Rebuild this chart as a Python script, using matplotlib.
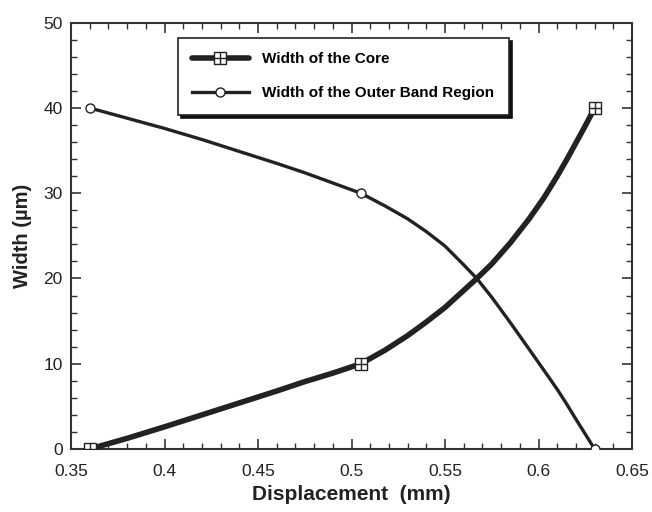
import numpy as np
import matplotlib
matplotlib.use("Agg")
import matplotlib.pyplot as plt
from matplotlib.ticker import MultipleLocator, FormatStrFormatter

plt.rcParams['font.family'] = ['Liberation Sans', 'DejaVu Sans']

# measured data points (markers)
x_pts = [0.36, 0.505, 0.63]
core_pts = [0, 10, 40]
outer_pts = [40, 30, 0]

# points
core_x = [0.36, 0.38, 0.40, 0.42, 0.44, 0.46, 0.475, 0.49, 0.505, 0.518, 0.53, 0.54, 0.55,
          0.56, 0.567, 0.575, 0.585, 0.595, 0.603, 0.61, 0.615, 0.62, 0.625, 0.63]
core_y = [0, 1.25, 2.6, 4.0, 5.4, 6.8, 7.9, 8.9, 10, 11.6, 13.3, 14.9, 16.6,
          18.6, 20, 21.7, 24.2, 27.0, 29.5, 32.0, 33.9, 35.9, 37.9, 40]
outer_x = [0.36, 0.38, 0.40, 0.42, 0.44, 0.46, 0.475, 0.49, 0.505, 0.518, 0.53, 0.54, 0.55,
           0.56, 0.567, 0.575, 0.585, 0.595, 0.603, 0.61, 0.615, 0.62, 0.625, 0.63]
outer_y = [40, 38.8, 37.6, 36.3, 34.9, 33.5, 32.4, 31.2, 30, 28.5, 27.0, 25.5, 23.8,
           21.6, 20, 17.8, 14.8, 11.7, 9.2, 7.0, 5.3, 3.5, 1.75, 0]

lab_core = 'Width of the Core'
lab_outer = 'Width of the Outer Band Region'

col = '#222222'

fig = plt.figure(figsize=(6.52, 5.12), dpi=100)
ax = fig.add_axes([71/652, 1-449/512, 561/652, 426.3/512])

l1, = ax.plot(core_x, core_y, color=col, lw=4.0, solid_capstyle='round',
              solid_joinstyle='round', zorder=3)
m1a, = ax.plot(x_pts, core_pts, 's', ms=8.5, mfc='white', mec=col, mew=1.0, zorder=4, ls='none')
m1b, = ax.plot(x_pts, core_pts, '+', ms=8.5, mec=col, mew=1.0, zorder=5, ls='none')

l2, = ax.plot(outer_x, outer_y, color=col, lw=2.4, solid_joinstyle='round', zorder=3)
m2, = ax.plot(x_pts, outer_pts, 'o', ms=6.5, mfc='white', mec=col, mew=1.0, zorder=4, ls='none')

ax.set_xlim(0.35, 0.65)
ax.set_ylim(0, 50)
ax.xaxis.set_major_locator(MultipleLocator(0.05))
ax.xaxis.set_minor_locator(MultipleLocator(0.01))
ax.yaxis.set_major_locator(MultipleLocator(10))
ax.yaxis.set_minor_locator(MultipleLocator(2))
ax.xaxis.set_major_formatter(FormatStrFormatter('%g'))
ax.tick_params(which='both', direction='in', top=True, right=True, colors='#333333',
               labelcolor='#222222', labelsize=12.5)
ax.tick_params(which='major', length=7, width=1.2)
ax.tick_params(which='minor', length=4, width=1.0)
ax.tick_params(axis='x', which='major', pad=11)
ax.tick_params(axis='y', which='major', pad=6)
for s in ax.spines.values():
    s.set_linewidth(1.5)
    s.set_color('#333333')

ax.set_xlabel('Displacement  (mm)', fontsize=15, fontweight='bold', color='#222222', labelpad=4)
ax.set_ylabel('Width (\u00b5m)', fontsize=14.5, fontweight='bold', color='#222222', labelpad=8)

leg = ax.legend([(l1, m1a, m1b), (l2, m2)], [lab_core, lab_outer],
                loc='upper left', bbox_to_anchor=(0.19, 0.965),
                prop={'weight': 'bold', 'size': 11}, frameon=True, fancybox=False,
                edgecolor='#222222', handlelength=3.7, borderpad=0.95, labelspacing=1.3,
                handletextpad=0.9, borderaxespad=0,
                shadow={'color': '#111111', 'alpha': 1, 'ox': 2.5, 'oy': -2.5})
leg.get_frame().set_linewidth(1.2)

fig.savefig('out.png', dpi=100)
